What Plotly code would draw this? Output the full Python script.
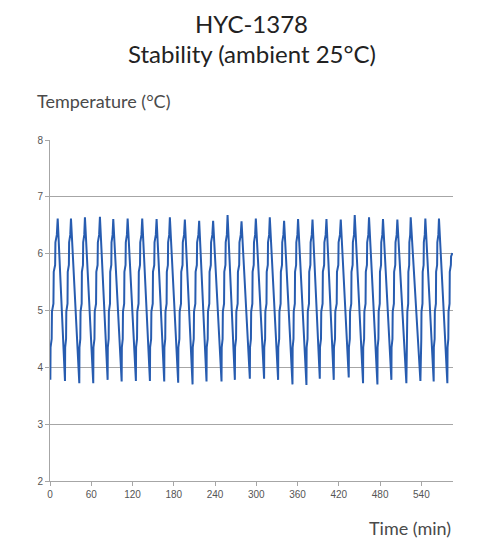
import plotly.graph_objects as go

# ---- data ----
START_TIME = 0.0
START_TEMP = 4.32

TROUGH_TIME = [0.5, 21.8, 42.6, 62.9, 83.8, 104.2, 124.9, 145.3, 166.1, 186.4,
               207.3, 227.6, 249.4, 268.8, 290.6, 311.3, 331.7, 352.6, 372.9,
               392.3, 412.6, 434.4, 455.2, 476.1, 496.4, 518.2, 538.6, 557.9, 577.8]
TROUGH_TEMP = [3.78, 3.76, 3.72, 3.72, 3.78, 3.75, 3.76, 3.76, 3.75, 3.73,
               3.70, 3.75, 3.75, 3.78, 3.80, 3.80, 3.78, 3.70, 3.69,
               3.80, 3.78, 3.82, 3.72, 3.70, 3.78, 3.72, 3.76, 3.75, 3.72]

PEAK_TIME = [11.2, 30.5, 50.8, 72.6, 92.0, 112.9, 134.1, 155.0, 174.3, 196.1,
             216.9, 237.2, 258.2, 278.5, 299.3, 319.6, 340.4, 360.7, 381.7,
             402.0, 422.8, 443.1, 463.9, 484.2, 505.1, 524.5, 545.8, 565.6]
PEAK_TEMP = [6.62, 6.62, 6.64, 6.65, 6.61, 6.62, 6.62, 6.61, 6.64, 6.60,
             6.58, 6.58, 6.68, 6.57, 6.62, 6.64, 6.58, 6.61, 6.60,
             6.61, 6.60, 6.68, 6.64, 6.61, 6.60, 6.64, 6.62, 6.62]

# staircase levels seen on each warming ramp (position as share of the ramp)
RAMP_SHARE = [0.03, 0.18, 0.22, 0.42, 0.46, 0.65, 0.69, 0.88]
RAMP_TEMP = [4.35, 4.50, 4.98, 5.12, 5.68, 5.80, 6.20, 6.33]

# last, unfinished ramp
FINAL_TIME = [578.1, 579.2, 579.5, 581.0, 581.3, 582.9, 583.2, 585.0]
FINAL_TEMP = [4.35, 4.50, 4.98, 5.12, 5.68, 5.80, 5.95, 6.01]

X_TICKS = [0, 60, 120, 180, 240, 300, 360, 420, 480, 540]
Y_TICKS = [2, 3, 4, 5, 6, 7, 8]

TITLE_LINE_1 = "HYC-1378"
TITLE_LINE_2 = "Stability (ambient 25°C)"
Y_LABEL = "Temperature (°C)"
X_LABEL = "Time (min)"

# ---- assemble the trace ----
t = [START_TIME]
y = [START_TEMP]
for i in range(len(TROUGH_TIME)):
    T, v = TROUGH_TIME[i], TROUGH_TEMP[i]
    t.append(T)
    y.append(v)
    if i < len(PEAK_TIME):
        P = PEAK_TIME[i]
        d = P - T
        for s, lv in zip(RAMP_SHARE, RAMP_TEMP):
            t.append(T + s * d)
            y.append(lv)
        t.append(P)
        y.append(PEAK_TEMP[i])
    else:
        t.extend(FINAL_TIME)
        y.extend(FINAL_TEMP)

fig = go.Figure()
fig.add_trace(go.Scatter(
    x=t, y=y, mode="lines",
    line=dict(color="#275cb0", width=2),
    showlegend=False, hoverinfo="skip",
))

grid = "#a6a6a6"
tick_font = dict(family="Liberation Sans, Arial, sans-serif", size=10, color="#555555")
head_font = "Lato, Open Sans, sans-serif"

W, H = 470, 532
L, R, T_, B = 42, 25, 132, 59
PW = W - L - R
PH = H - T_ - B

fig.update_layout(
    width=W, height=H,
    margin=dict(l=L, r=R, t=T_, b=B),
    paper_bgcolor="white", plot_bgcolor="white",
    xaxis=dict(
        range=[0, 586], tickvals=X_TICKS, ticktext=[str(v) for v in X_TICKS],
        showgrid=False, zeroline=False,
        showline=True, linecolor=grid, linewidth=1,
        ticks="outside", ticklen=4, tickcolor=grid,
        tickfont=tick_font,
    ),
    yaxis=dict(
        range=[2, 8], tickvals=Y_TICKS,
        showgrid=True, gridcolor=grid, gridwidth=1, zeroline=False,
        showline=True, linecolor=grid, linewidth=1,
        ticks="outside", ticklen=4, tickcolor=grid,
        tickfont=tick_font,
    ),
    annotations=[
        dict(text=TITLE_LINE_1, xref="paper", yref="paper",
             x=0.5, y=1 + (T_ - 15) / PH, xanchor="center", yanchor="middle",
             showarrow=False,
             font=dict(family=head_font, size=24, color="#222222")),
        dict(text=TITLE_LINE_2, xref="paper", yref="paper",
             x=0.5, y=1 + (T_ - 45) / PH, xanchor="center", yanchor="middle",
             showarrow=False,
             font=dict(family=head_font, size=24, color="#222222")),
        dict(text=Y_LABEL, xref="paper", yref="paper",
             x=-15 / PW, y=1 + 39 / PH, xanchor="left", yanchor="middle",
             showarrow=False,
             font=dict(family=head_font, size=18, color="#4a4a4a")),
        dict(text=X_LABEL, xref="paper", yref="paper",
             x=1, y=-47 / PH, xanchor="right", yanchor="middle",
             showarrow=False,
             font=dict(family=head_font, size=18, color="#4a4a4a")),
    ],
)

fig.write_html("out.html")
